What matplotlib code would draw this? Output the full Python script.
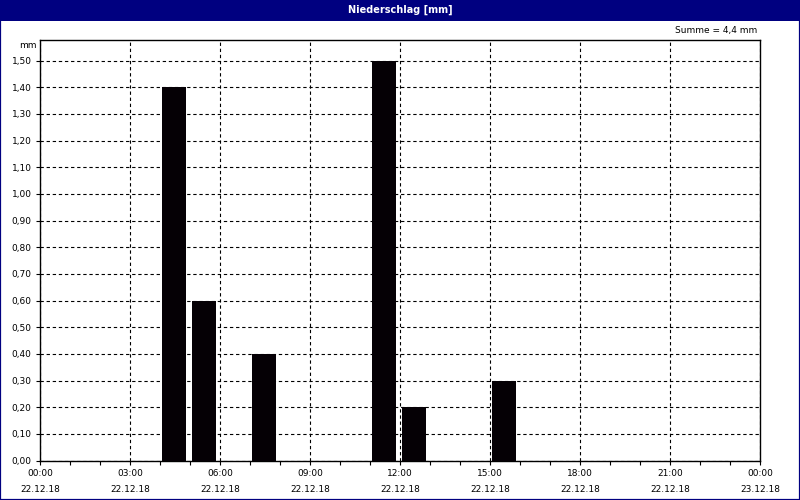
import matplotlib
matplotlib.use("Agg")
import matplotlib.pyplot as plt
from matplotlib.patches import Rectangle
from matplotlib.ticker import MultipleLocator

# Data
hours = [4, 5, 7, 11, 12, 15]            # start hour of each hourly interval (22.12.18)
precip = [1.4, 0.6, 0.4, 1.5, 0.2, 0.3]  # mm
xtick_hours = [0, 3, 6, 9, 12, 15, 18, 21, 24]
xtick_labels = ["00:00\n22.12.18", "03:00\n22.12.18", "06:00\n22.12.18", "09:00\n22.12.18",
                "12:00\n22.12.18", "15:00\n22.12.18", "18:00\n22.12.18", "21:00\n22.12.18",
                "00:00\n23.12.18"]
title = "Niederschlag [mm]"
total_label = "Summe = 4,4 mm"

plt.rcParams['font.family'] = ['DejaVu Sans']
fig = plt.figure(figsize=(8, 5), dpi=100)
fig.patch.set_facecolor("white")

navy = "#000080"
# title bar
fig.patches.append(Rectangle((0, 1 - 20.5 / 500), 1, 20.5 / 500, transform=fig.transFigure,
                             facecolor=navy, edgecolor="none", zorder=0))
# outer border
fig.patches.append(Rectangle((0, 0), 1, 1, transform=fig.transFigure,
                             facecolor="none", edgecolor=navy, linewidth=1.6, zorder=5))
fig.text(0.5, 1 - 10 / 500, title, color="white", fontsize=7, fontweight="bold",
         ha="center", va="center")

ax = fig.add_axes([40 / 800, (500 - 460.5) / 500, 720 / 800, (460.5 - 40) / 500])
ax.bar([h + 0.467 for h in hours], precip, width=0.8, color="#050005", zorder=3)

ax.set_xlim(0, 24)
ax.set_ylim(0, 1.577)
ax.set_xticks(xtick_hours)
ax.set_xticklabels(xtick_labels, fontsize=6.5, linespacing=2.05)
ax.xaxis.set_minor_locator(MultipleLocator(1))
ax.set_yticks([i / 10 for i in range(16)])
ax.set_yticklabels([f"{i/10:.2f}".replace(".", ",") for i in range(16)], fontsize=6.5)

ax.tick_params(axis="both", which="major", direction="out", length=3, width=0.8, color="black", pad=3)
ax.tick_params(axis="x", which="minor", direction="out", length=3, width=0.8, color="black")
ax.tick_params(axis="x", which="major", pad=3)

ax.grid(True, which="major", color="black", linestyle=(0, (3, 2.5)), linewidth=0.8, zorder=1)
ax.set_axisbelow(True)
for s in ax.spines.values():
    s.set_color("black")
    s.set_linewidth(1.0)

fig.text(37 / 800, 1 - 45 / 500, "mm", fontsize=6.5, ha="right", va="center")
fig.text(757 / 800, 1 - 31 / 500, total_label, fontsize=6.5, ha="right", va="center")

fig.savefig("out.png", dpi=100)
